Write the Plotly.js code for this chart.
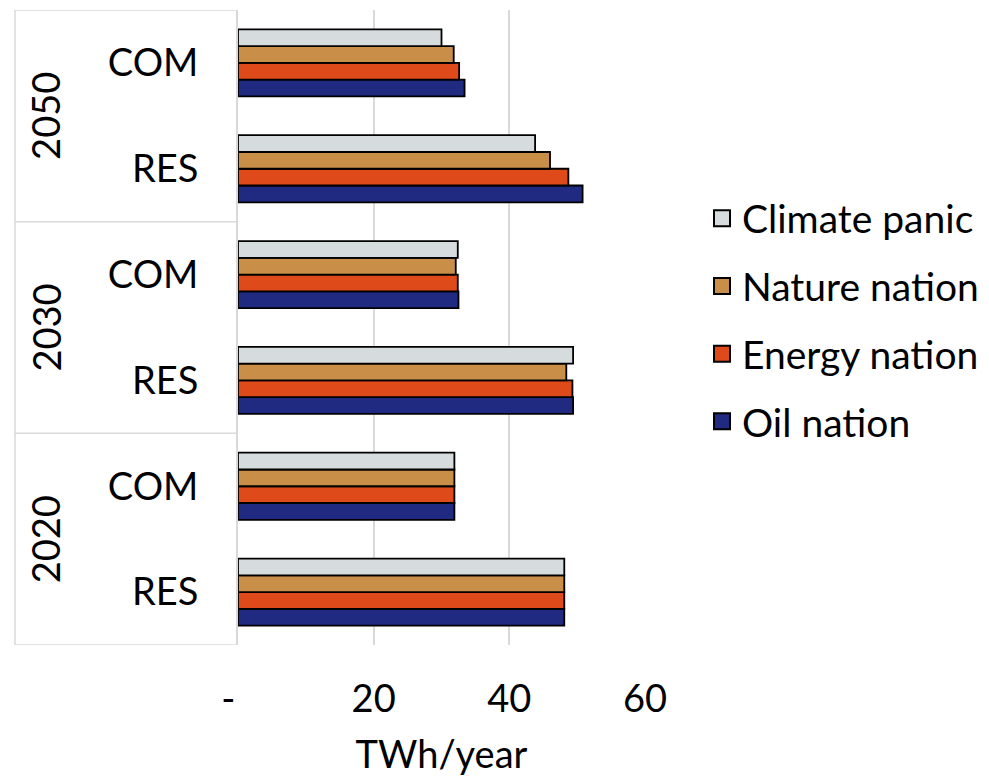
<!DOCTYPE html>
<html>
<head>
<meta charset="utf-8">
<script src="https://cdn.plot.ly/plotly-3.0.1.min.js"></script>
<style>html,body{margin:0;padding:0;background:#fff;}#chart{width:989px;height:777px;}</style>
</head>
<body>
<div id="chart"></div>
<script>
// ---- data ----
const years = ['2020', '2030', '2050'];
const sectors = ['RES', 'COM'];
const scenarios = ['Oil nation', 'Energy nation', 'Nature nation', 'Climate panic'];
const colors = ['#1f2a80', '#df4a1b', '#c98e48', '#d6dcde'];
// order: 2020 RES, 2020 COM, 2030 RES, 2030 COM, 2050 RES, 2050 COM
const oilNation     = [48.1, 31.9, 49.4, 32.5, 50.8, 33.4];
const energyNation  = [48.1, 31.9, 49.3, 32.4, 48.7, 32.6];
const natureNation  = [48.1, 31.9, 48.4, 32.1, 46.0, 31.8];
const climatePanic  = [48.1, 31.9, 49.4, 32.4, 43.8, 30.0];
const xTickVals = [0, 20, 40, 60];
const xTickText = ['-\u00a0\u00a0', '20', '40', '60'];

const seriesValues = [oilNation, energyNation, natureNation, climatePanic];
const cats = [];
const catText = [];
years.forEach(y => sectors.forEach(s => { cats.push(y + ' ' + s); catText.push(s); }));

const FONT = 'Lato, "Open Sans", sans-serif';
const traces = scenarios.map((name, i) => ({
  type: 'bar', orientation: 'h', name: name,
  x: seriesValues[i], y: cats,
  legendgroup: name, showlegend: false,
  marker: {color: colors[i], line: {color: '#000', width: 1.8}},
  hoverinfo: 'x+name'
}));
// legend entries (larger square symbols)
scenarios.forEach((name, i) => {
  traces.push({
    type: 'scatter', mode: 'markers', name: name, x: [null], y: [null],
    legendgroup: name, legendrank: scenarios.length - i, showlegend: true,
    marker: {symbol: 'square', size: 16, color: colors[i], line: {color: '#000', width: 2}},
    hoverinfo: 'skip'
  });
});

const gridc = '#d9d9d9';
const shapes = [];
const nCat = cats.length;
const per = sectors.length;
for (let k = 0; k <= years.length; k++) {
  const yv = k * per - 0.5;
  shapes.push({type: 'line', xref: 'paper', yref: 'y', x0: -0.548, x1: 0, y0: yv, y1: yv,
    line: {color: gridc, width: 1.5}});
}
shapes.push({type: 'line', xref: 'paper', yref: 'y', x0: -0.548, x1: -0.548, y0: -0.5, y1: nCat - 0.5,
  line: {color: gridc, width: 1.5}});

const annotations = years.map((yr, k) => ({
  xref: 'paper', yref: 'y', x: -0.474, y: k * per + (per - 1) / 2,
  text: yr, showarrow: false, textangle: -90, xanchor: 'center', yanchor: 'middle',
  font: {family: FONT, size: 38, color: '#000'}
}));

const layout = {
  width: 989, height: 777,
  margin: {l: 238, r: 344, t: 10, b: 132, autoexpand: false},
  paper_bgcolor: '#fff', plot_bgcolor: '#fff',
  barmode: 'group', bargap: 0.366, bargroupgap: 0,
  font: {family: FONT, size: 38, color: '#000'},
  xaxis: {
    range: [0, 60], tickvals: xTickVals, ticktext: xTickText,
    showgrid: true, gridcolor: gridc, gridwidth: 2,
    zeroline: false, showline: false, ticks: '', ticklabelstandoff: 28,
    tickfont: {family: FONT, size: 38, color: '#000'},
    title: {text: 'TWh/year', font: {family: FONT, size: 38, color: '#000'}, standoff: 22},
    fixedrange: true, automargin: false
  },
  yaxis: {
    type: 'category', categoryorder: 'array', categoryarray: cats,
    tickvals: cats, ticktext: catText, range: [-0.5, nCat - 0.5],
    showline: true, linecolor: gridc, linewidth: 2,
    showgrid: false, ticks: '', ticklabelstandoff: 30,
    tickfont: {family: FONT, size: 38, color: '#000'},
    fixedrange: true, automargin: false
  },
  legend: {
    x: 1.14, xanchor: 'left', y: 0.512, yanchor: 'middle',
    traceorder: 'grouped', tracegroupgap: 14,
    font: {family: FONT, size: 39, color: '#000'},
    bgcolor: 'rgba(0,0,0,0)', itemwidth: 30
  },
  shapes: shapes,
  annotations: annotations,
  showlegend: true
};

Plotly.newPlot('chart', traces, layout, {displayModeBar: false, staticPlot: true});
</script>
</body>
</html>
